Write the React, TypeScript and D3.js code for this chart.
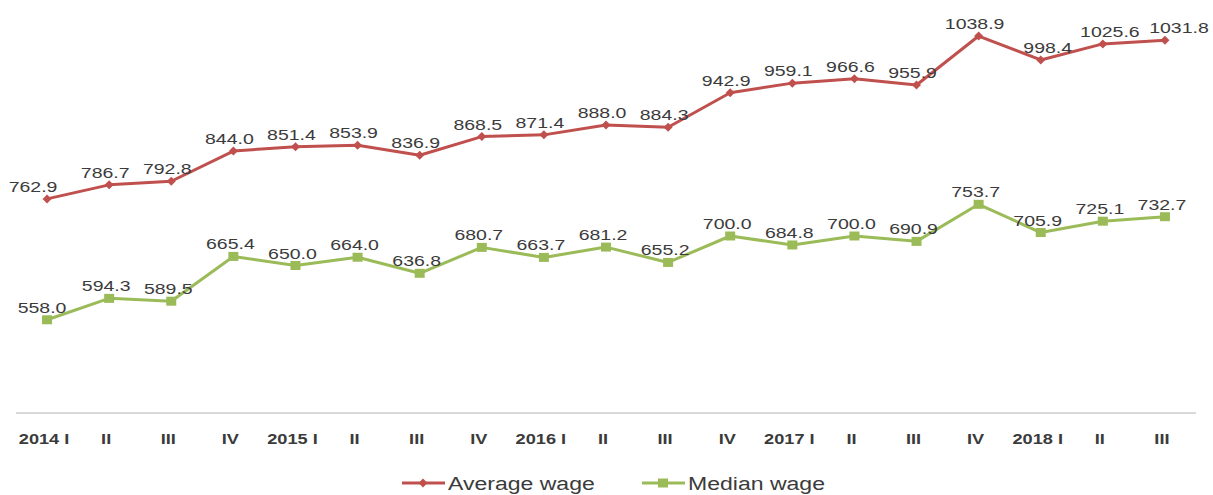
import React from "react";
import * as d3 from "d3";

const quarters = ["2014 I", "II", "III", "IV", "2015 I", "II", "III", "IV", "2016 I", "II", "III", "IV", "2017 I", "II", "III", "IV", "2018 I", "II", "III"];
const averageWage = [762.9, 786.7, 792.8, 844.0, 851.4, 853.9, 836.9, 868.5, 871.4, 888.0, 884.3, 942.9, 959.1, 966.6, 955.9, 1038.9, 998.4, 1025.6, 1031.8];
const medianWage = [558.0, 594.3, 589.5, 665.4, 650.0, 664.0, 636.8, 680.7, 663.7, 681.2, 655.2, 700.0, 684.8, 700.0, 690.9, 753.7, 705.9, 725.1, 732.7];
const seriesNames = ["Average wage", "Median wage"];

const W = 1213;
const H = 495;
const RED = "#C0504D";
const GREEN = "#9BBB59";
const TEXT = "#3b3b3b";
const FONT = "'Liberation Sans', Arial, sans-serif";
const SX = 1.3;

export default function App() {
  const idx = quarters.map((_, i) => String(i));
  const x = d3.scaleBand().domain(idx).range([16, 1196]);
  const cx = (i: number) => (x(String(i)) as number) + x.bandwidth() / 2;
  const y = d3.scaleLinear().domain([400, 1100]).range([413, 0]);

  const line = d3
    .line<number>()
    .x((_, i) => cx(i))
    .y((d) => y(d));

  const labelDxAvg = (i: number) => (i === 0 ? -14 : i === 18 ? 14 : i >= 16 ? 7 : -4);
  const labelDxMed = (i: number) => (i === 0 ? -5 : -3);

  const diamond = (px: number, py: number, r: number) =>
    `M${px},${py - r}L${px + r},${py}L${px},${py + r}L${px - r},${py}Z`;

  const renderLabel = (v: number, i: number, dx: number, key: string) => (
    <g key={key} transform={`translate(${cx(i) + dx},${y(v) - 7}) scale(${SX},1)`}>
      <text textAnchor="middle" fontSize={15} fontFamily={FONT} fill={TEXT}>
        {v.toFixed(1)}
      </text>
    </g>
  );

  return (
    <svg width={W} height={H} style={{ position: "absolute", left: 0, top: 0, background: "#fff" }}>
      {/* axis line */}
      <line x1={x.range()[0]} x2={x.range()[1]} y1={y(400)} y2={y(400)} stroke="#d9d9d9" strokeWidth={2} />
      {quarters.map((q, i) => (
        <g key={"t" + i} transform={`translate(${cx(i) - 3},${y(400) + 31}) scale(${SX},1)`}>
          <text textAnchor="middle" fontSize={14} fontWeight="bold" fontFamily={FONT} fill={TEXT}>
            {q}
          </text>
        </g>
      ))}

      {/* lines */}
      <path d={line(averageWage) || ""} fill="none" stroke={RED} strokeWidth={3} strokeLinejoin="round" />
      <path d={line(medianWage) || ""} fill="none" stroke={GREEN} strokeWidth={3} strokeLinejoin="round" />

      {averageWage.map((v, i) => (
        <path key={"a" + i} d={diamond(cx(i), y(v), 4.5)} fill={RED} />
      ))}
      {medianWage.map((v, i) => (
        <rect key={"m" + i} x={cx(i) - 5} y={y(v) - 4.5} width={10} height={9} fill={GREEN} />
      ))}

      {averageWage.map((v, i) => renderLabel(v, i, labelDxAvg(i), "la" + i))}
      {medianWage.map((v, i) => renderLabel(v, i, labelDxMed(i), "lm" + i))}

      {/* legend */}
      <g>
        <line x1={402} x2={445} y1={483} y2={483} stroke={RED} strokeWidth={3} />
        <path d={diamond(423, 483, 4.5)} fill={RED} />
        <g transform={`translate(448,490) scale(1.28,1)`}>
          <text fontSize={18} fontFamily={FONT} fill={TEXT}>
            {seriesNames[0]}
          </text>
        </g>
        <line x1={642} x2={685} y1={483} y2={483} stroke={GREEN} strokeWidth={3} />
        <rect x={658} y={478.5} width={10} height={9} fill={GREEN} />
        <g transform={`translate(688,490) scale(1.28,1)`}>
          <text fontSize={18} fontFamily={FONT} fill={TEXT}>
            {seriesNames[1]}
          </text>
        </g>
      </g>
    </svg>
  );
}
